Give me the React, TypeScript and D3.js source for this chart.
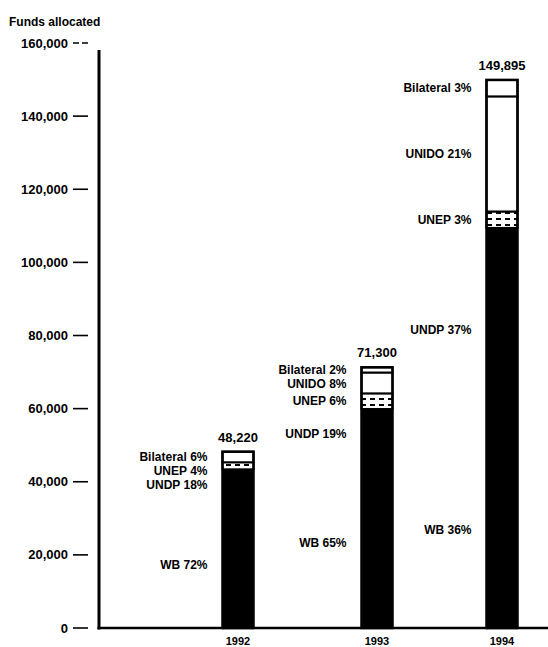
import React from "react";
import * as d3 from "d3";

const years = [1992, 1993, 1994];
const totals = [48220, 71300, 149895];
const agencies = ["WB", "UNDP", "UNEP", "UNIDO", "Bilateral"];
// percentage shares per year, in agency order
const shares: number[][] = [
  [72, 18, 4, 0, 6],
  [65, 19, 6, 8, 2],
  [36, 37, 3, 21, 3],
];
const yTicks = [0, 20000, 40000, 60000, 80000, 100000, 120000, 140000, 160000];
const title = "Funds allocated";

const fills: Record<string, string> = {
  WB: "#000",
  UNDP: "#000",
  UNEP: "url(#unepPat)",
  UNIDO: "#fff",
  Bilateral: "#fff",
};

const W = 548;
const H = 647;
const FONT = "'Liberation Sans', Arial, sans-serif";

export default function App() {
  const y = d3.scaleLinear().domain([0, 160000]).range([628, 43]);
  const x = d3.scaleLinear().domain(years).range([238, 377, 502]);
  const barW = 31;

  type Row = { year: number; total: number; [k: string]: number };
  const rows: Row[] = years.map((yr, i) => {
    const r: Row = { year: yr, total: totals[i] };
    agencies.forEach((a, j) => (r[a] = shares[i][j]));
    return r;
  });
  const stack = d3
    .stack<Row>()
    .keys(agencies)
    .value((d, key) => (d.total * d[key]) / 100);
  const series = stack(rows);

  const fmt = d3.format(",");

  // label positions: segment midpoints, pushed down to avoid overlap
  const labels: { x: number; y: number; text: string; key: string }[] = [];
  rows.forEach((r, i) => {
    const segs = agencies
      .map((a, j) => ({ a, s: series[j][i] }))
      .filter((d) => r[d.a] > 0)
      .reverse();
    let prev = -Infinity;
    segs.forEach((d) => {
      let ly = y((d.s[0] + d.s[1]) / 2);
      ly = Math.max(ly, prev + 14);
      prev = ly;
      labels.push({
        x: x(r.year) - barW / 2 - 15,
        y: ly,
        text: `${d.a} ${r[d.a]}%`,
        key: `${r.year}-${d.a}`,
      });
    });
  });

  return (
    <svg
      width={W}
      height={H}
      style={{ position: "absolute", left: 0, top: 0, background: "#fff" }}
      fontFamily={FONT}
    >
      <defs>
        <pattern id="unepPat" width="9" height="6" patternUnits="userSpaceOnUse">
          <rect width="9" height="6" fill="#fff" />
          <rect x="1" y="2" width="5" height="2" fill="#000" />
        </pattern>
      </defs>
      <text x={9} y={26} fontSize={12} fontWeight="bold" fill="#000">
        {title}
      </text>

      {/* y axis */}
      {yTicks.map((t) => (
        <g key={t}>
          <text
            x={68}
            y={y(t)}
            dy="0.35em"
            textAnchor="end"
            fontSize={13}
            fontWeight="bold"
            fill="#000"
          >
            {fmt(t)}
          </text>
          <line
            x1={73}
            x2={88}
            y1={y(t)}
            y2={y(t)}
            stroke="#000"
            strokeWidth={1.6}
            strokeDasharray={t === 160000 ? "6,3" : undefined}
          />
        </g>
      ))}
      <line x1={99} x2={99} y1={50} y2={629.5} stroke="#000" strokeWidth={3} />
      <line x1={97.5} x2={548} y1={628} y2={628} stroke="#000" strokeWidth={2.5} />

      {/* bars */}
      {rows.map((r, i) => (
        <g key={r.year}>
          <rect
            x={x(r.year) - barW / 2}
            y={y(r.total)}
            width={barW}
            height={y(0) - y(r.total)}
            fill="#000"
          />
          {agencies.map((a, j) => {
            const s = series[j][i];
            if (r[a] <= 0 || fills[a] === "#000") return null;
            return (
              <rect
                key={a}
                x={x(r.year) - barW / 2}
                y={y(s[1])}
                width={barW}
                height={y(s[0]) - y(s[1])}
                fill={fills[a]}
                stroke="#000"
                strokeWidth={2}
              />
            );
          })}
          <rect
            x={x(r.year) - barW / 2}
            y={y(r.total)}
            width={barW}
            height={y(0) - y(r.total)}
            fill="none"
            stroke="#000"
            strokeWidth={2.5}
          />
          <text
            x={x(r.year)}
            y={y(r.total) - 10}
            textAnchor="middle"
            fontSize={13}
            fontWeight="bold"
            fill="#000"
          >
            {fmt(r.total)}
          </text>
          <text
            x={x(r.year)}
            y={645}
            textAnchor="middle"
            fontSize={11}
            fontWeight="bold"
            fill="#000"
          >
            {r.year}
          </text>
        </g>
      ))}

      {labels.map((l) => (
        <text
          key={l.key}
          x={l.x}
          y={l.y}
          dy="0.35em"
          textAnchor="end"
          fontSize={12}
          fontWeight="bold"
          fill="#000"
        >
          {l.text}
        </text>
      ))}
    </svg>
  );
}
